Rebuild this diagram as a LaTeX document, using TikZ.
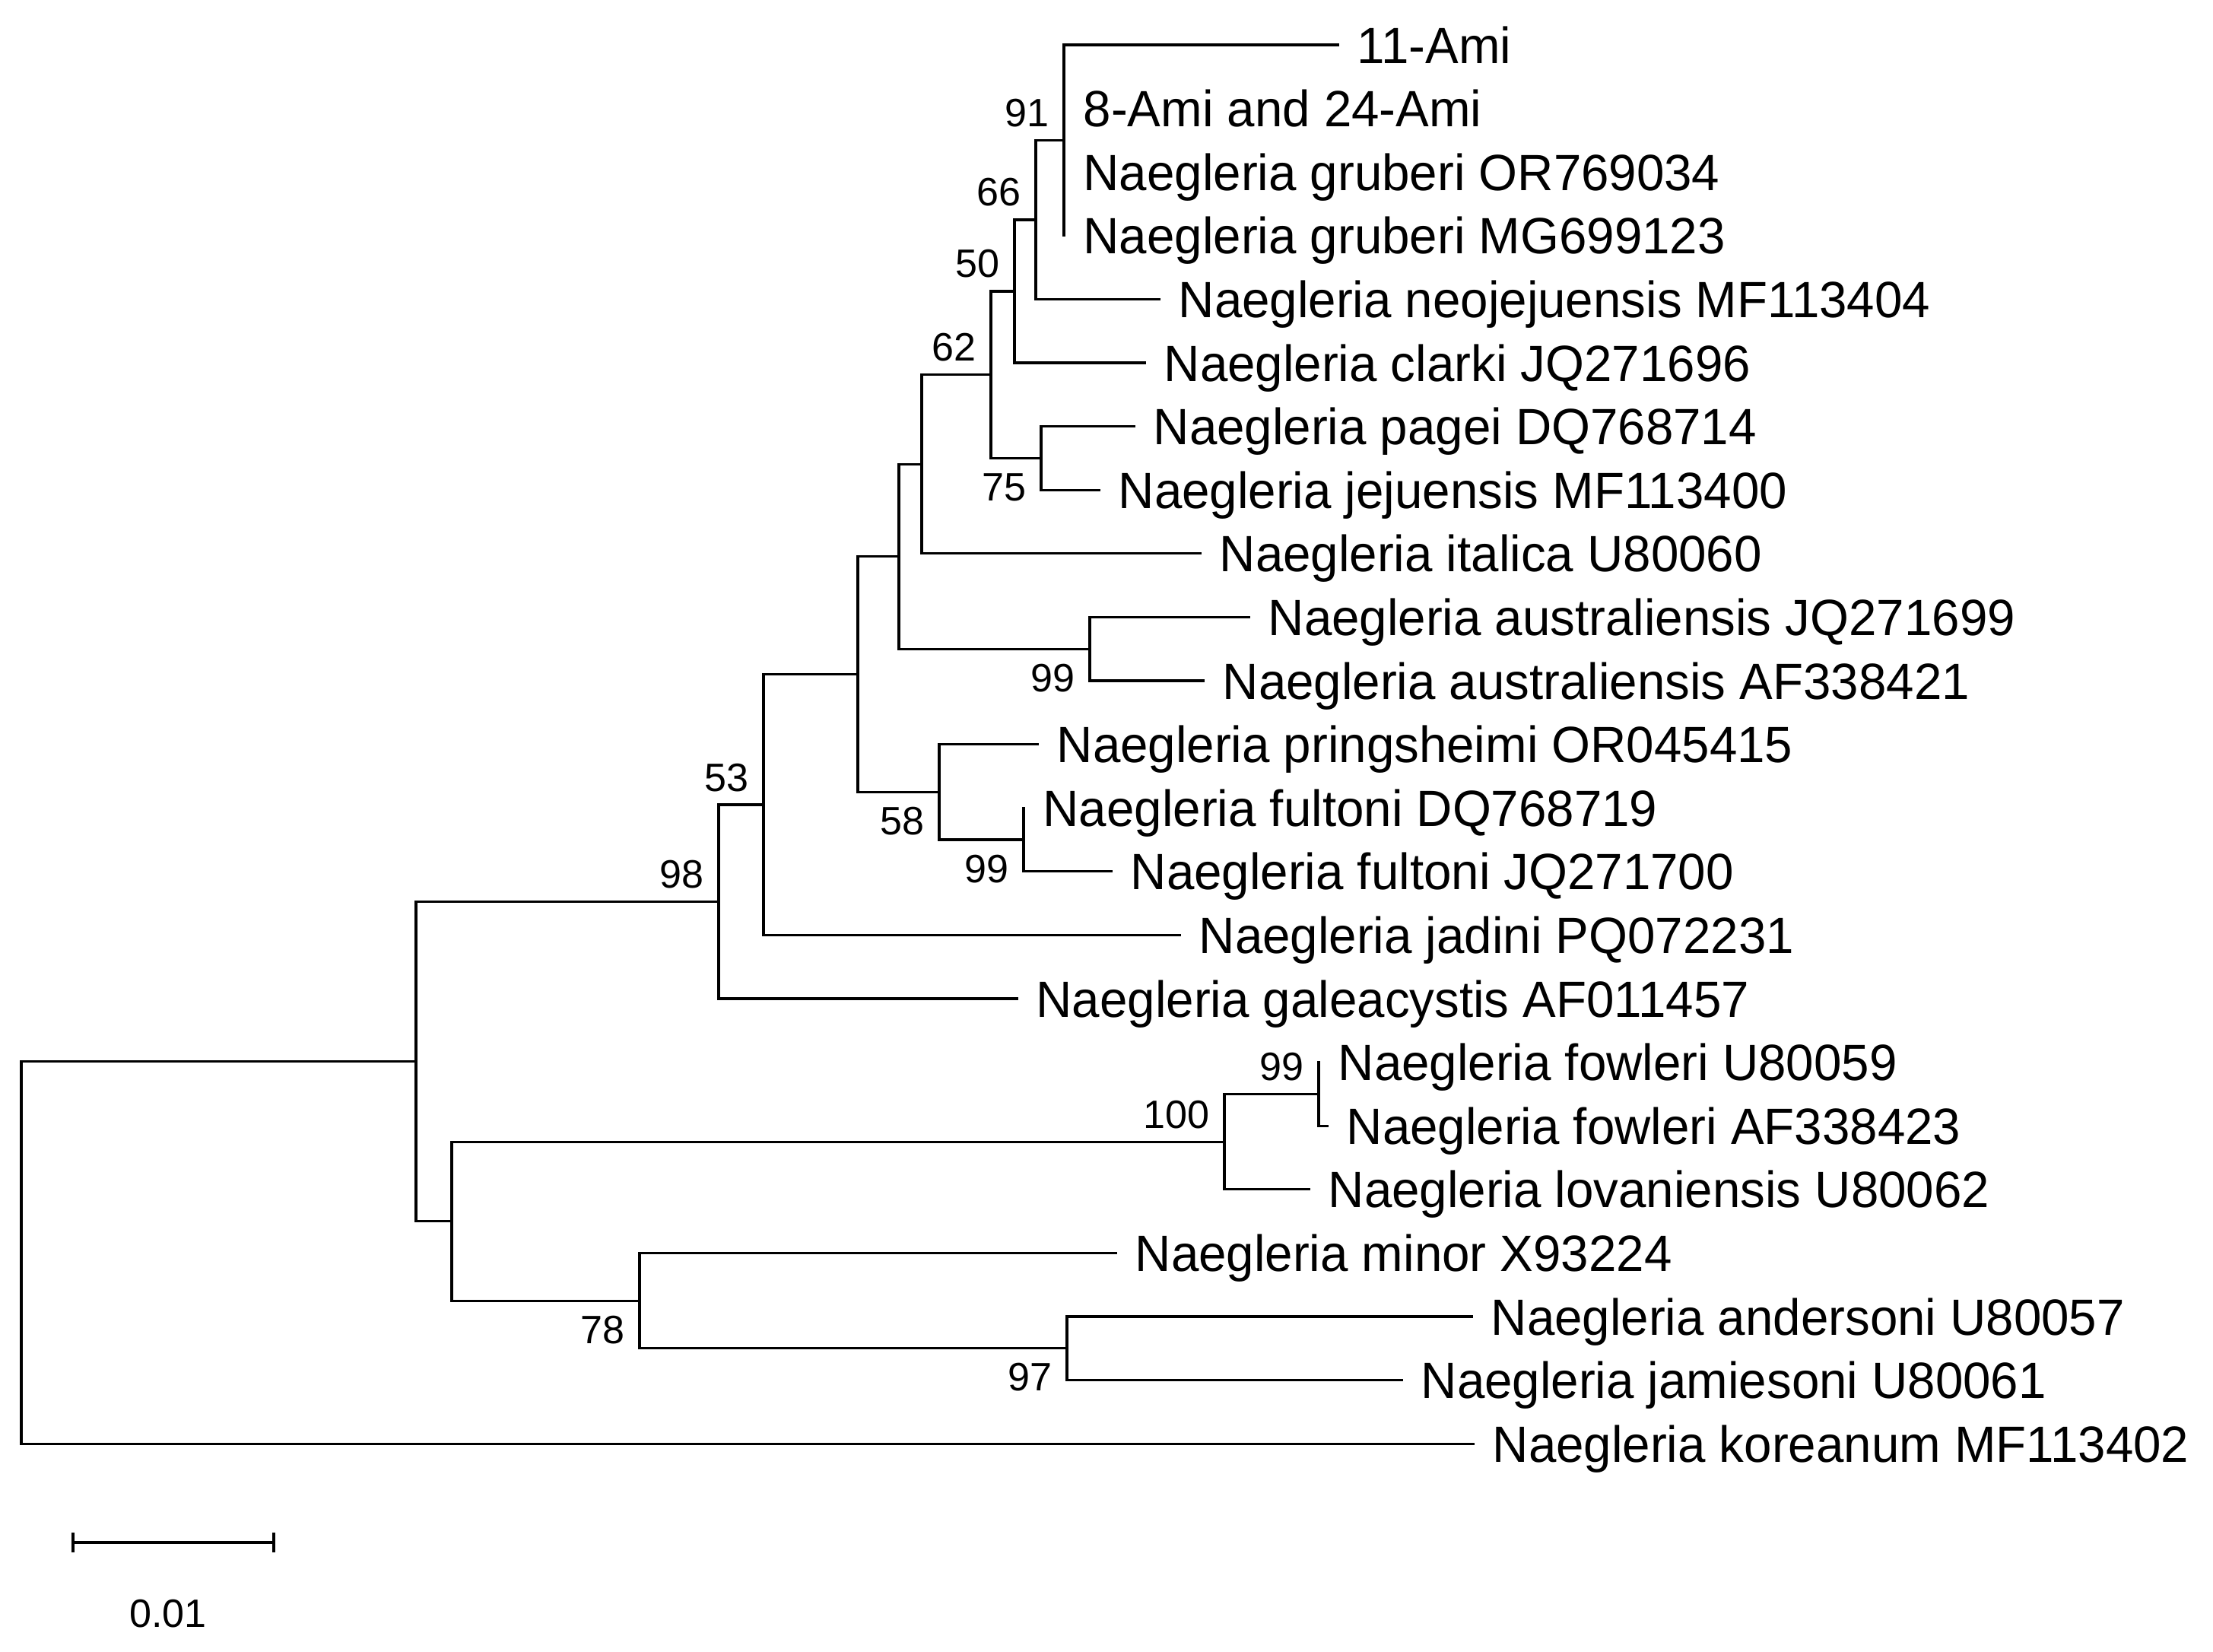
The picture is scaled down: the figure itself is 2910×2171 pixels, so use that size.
\documentclass[tikz,border=0pt]{standalone}
\usepackage{fontspec}
\setmainfont{Liberation Sans}
\newfontfamily\taxfont[FakeStretch=0.976]{Liberation Sans}
\begin{document}
\begin{tikzpicture}[x=0.01cm,y=-0.01cm,
  branch/.style={line width=0.032cm, line cap=rect, line join=miter},
  taxon/.style={anchor=base west, inner sep=0pt, xshift=0.25cm, yshift=-0.24cm,
    font=\taxfont\fontsize{19.07pt}{22pt}\selectfont},
  bootup/.style={anchor=base east, inner sep=0pt, xshift=-0.19cm, yshift=0.18cm,
    font=\fontsize{14.8pt}{17pt}\selectfont},
  bootdown/.style={anchor=base east, inner sep=0pt, xshift=-0.19cm, yshift=-0.56cm,
    font=\fontsize{14.8pt}{17pt}\selectfont},
  scaletext/.style={anchor=base, inner sep=0pt, font=\fontsize{14.8pt}{17pt}\selectfont}]
\useasboundingbox[fill=white] (0,0) rectangle (2910,2171);

% tips (branch ends)
\coordinate (t0)  at (1759,59);
\coordinate (t1)  at (1399,142.6);
\coordinate (t2)  at (1399,226.2);
\coordinate (t3)  at (1399,309.8);
\coordinate (t4)  at (1524,393.4);
\coordinate (t5)  at (1505,477);
\coordinate (t6)  at (1491,560.6);
\coordinate (t7)  at (1445,644.2);
\coordinate (t8)  at (1578,727.8);
\coordinate (t9)  at (1642,811.4);
\coordinate (t10) at (1582,895);
\coordinate (t11) at (1364,978.6);
\coordinate (t12) at (1346,1062.2);
\coordinate (t13) at (1461,1145.8);
\coordinate (t14) at (1551,1229.4);
\coordinate (t15) at (1337,1313);
\coordinate (t16) at (1734,1396.6);
\coordinate (t17) at (1745,1480.2);
\coordinate (t18) at (1721,1563.8);
\coordinate (t19) at (1467,1647.4);
\coordinate (t20) at (1935,1731);
\coordinate (t21) at (1843,1814.6);
\coordinate (t22) at (1937,1898.2);

% internal nodes
\coordinate (n91)  at (1399,184.4);
\coordinate (n66)  at (1362,288.9);
\coordinate (n50)  at (1334,382.95);
\coordinate (n75)  at (1369,602.4);
\coordinate (n62)  at (1303,492.7);
\coordinate (nA)   at (1212,610.2);
\coordinate (n99a) at (1433,853.2);
\coordinate (nB)   at (1182,731.7);
\coordinate (n99b) at (1346,1104);
\coordinate (n58)  at (1235,1041.3);
\coordinate (nC)   at (1128,886.5);
\coordinate (n53)  at (1004,1058);
\coordinate (n98)  at (945,1185.5);
\coordinate (n99c) at (1734,1438.4);
\coordinate (n100) at (1610,1501.1);
\coordinate (n97)  at (1403,1772.8);
\coordinate (n78)  at (841,1710.1);
\coordinate (nD)   at (594,1605.6);
\coordinate (nE)   at (547,1395.6);
\coordinate (root) at (28,1646.9);

% branches
\draw[branch] (n91) |- (t0);  \draw[branch] (n91) |- (t1);
\draw[branch] (n91) |- (t2);  \draw[branch] (n91) |- (t3);
\draw[branch] (n66) |- (n91); \draw[branch] (n66) |- (t4);
\draw[branch] (n50) |- (n66); \draw[branch] (n50) |- (t5);
\draw[branch] (n75) |- (t6);  \draw[branch] (n75) |- (t7);
\draw[branch] (n62) |- (n50); \draw[branch] (n62) |- (n75);
\draw[branch] (nA) |- (n62);  \draw[branch] (nA) |- (t8);
\draw[branch] (n99a) |- (t9); \draw[branch] (n99a) |- (t10);
\draw[branch] (nB) |- (nA);   \draw[branch] (nB) |- (n99a);
\draw[branch] (n99b) |- (t12); \draw[branch] (n99b) |- (t13);
\draw[branch] (n58) |- (t11); \draw[branch] (n58) |- (n99b);
\draw[branch] (nC) |- (nB);   \draw[branch] (nC) |- (n58);
\draw[branch] (n53) |- (nC);  \draw[branch] (n53) |- (t14);
\draw[branch] (n98) |- (n53); \draw[branch] (n98) |- (t15);
\draw[branch] (n99c) |- (t16); \draw[branch] (n99c) |- (t17);
\draw[branch] (n100) |- (n99c); \draw[branch] (n100) |- (t18);
\draw[branch] (n97) |- (t20); \draw[branch] (n97) |- (t21);
\draw[branch] (n78) |- (t19); \draw[branch] (n78) |- (n97);
\draw[branch] (nD) |- (n100); \draw[branch] (nD) |- (n78);
\draw[branch] (nE) |- (n98);  \draw[branch] (nE) |- (nD);
\draw[branch] (root) |- (nE); \draw[branch] (root) |- (t22);

% taxon labels
\node[taxon] (l0)  at (t0)  {11-Ami};
\node[taxon] (l1)  at (t1)  {8-Ami and 24-Ami};
\node[taxon] (l2)  at (t2)  {Naegleria gruberi OR769034};
\node[taxon] (l3)  at (t3)  {Naegleria gruberi MG699123};
\node[taxon] (l4)  at (t4)  {Naegleria neojejuensis MF113404};
\node[taxon] (l5)  at (t5)  {Naegleria clarki JQ271696};
\node[taxon] (l6)  at (t6)  {Naegleria pagei DQ768714};
\node[taxon] (l7)  at (t7)  {Naegleria jejuensis MF113400};
\node[taxon] (l8)  at (t8)  {Naegleria italica U80060};
\node[taxon] (l9)  at (t9)  {Naegleria australiensis JQ271699};
\node[taxon] (l10) at (t10) {Naegleria australiensis AF338421};
\node[taxon] (l11) at (t11) {Naegleria pringsheimi OR045415};
\node[taxon] (l12) at (t12) {Naegleria fultoni DQ768719};
\node[taxon] (l13) at (t13) {Naegleria fultoni JQ271700};
\node[taxon] (l14) at (t14) {Naegleria jadini PQ072231};
\node[taxon] (l15) at (t15) {Naegleria galeacystis AF011457};
\node[taxon] (l16) at (t16) {Naegleria fowleri U80059};
\node[taxon] (l17) at (t17) {Naegleria fowleri AF338423};
\node[taxon] (l18) at (t18) {Naegleria lovaniensis U80062};
\node[taxon] (l19) at (t19) {Naegleria minor X93224};
\node[taxon] (l20) at (t20) {Naegleria andersoni U80057};
\node[taxon] (l21) at (t21) {Naegleria jamiesoni U80061};
\node[taxon] (l22) at (t22) {Naegleria koreanum MF113402};

% bootstrap values
\node[bootup]   (b91)  at (n91)  {91};
\node[bootup]   (b66)  at (n66)  {66};
\node[bootup]   (b50)  at (n50)  {50};
\node[bootup]   (b62)  at (n62)  {62};
\node[bootdown] (b75)  at (n75)  {75};
\node[bootdown] (b99a) at (n99a) {99};
\node[bootdown] (b58)  at (n58)  {58};
\node[bootdown] (b99b) at (n99b) {99};
\node[bootup]   (b53)  at (n53)  {53};
\node[bootup]   (b98)  at (n98)  {98};
\node[bootup]   (b99c) at (n99c) {99};
\node[bootup]   (b100) at (n100) {100};
\node[bootdown] (b78)  at (n78)  {78};
\node[bootdown] (b97)  at (n97)  {97};

% scale bar
\coordinate (sb1) at (96,2028);
\coordinate (sb2) at (360,2028);
\draw[branch, line cap=butt] (sb1) -- (sb2);
\draw[branch, line cap=butt] ([yshift=0.13cm]sb1) -- ([yshift=-0.13cm]sb1);
\draw[branch, line cap=butt] ([yshift=0.13cm]sb2) -- ([yshift=-0.13cm]sb2);
\node[scaletext] (sbl) at (221,2139) {0.01};
\end{tikzpicture}
\end{document}
